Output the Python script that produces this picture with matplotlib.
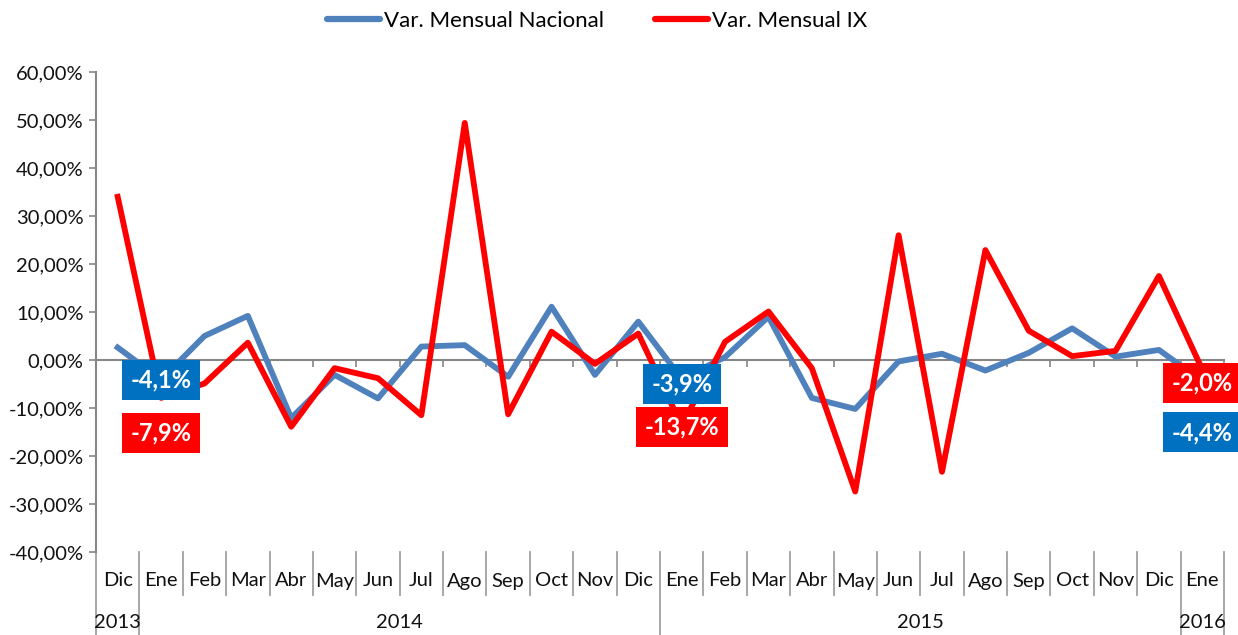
import matplotlib
matplotlib.use("Agg")
import matplotlib.pyplot as plt
from matplotlib.lines import Line2D
import matplotlib.transforms as mtransforms

plt.rcParams['font.family'] = ['Lato', 'DejaVu Sans']

months = ['Dic', 'Ene', 'Feb', 'Mar', 'Abr', 'May', 'Jun', 'Jul', 'Ago', 'Sep', 'Oct', 'Nov', 'Dic',
          'Ene', 'Feb', 'Mar', 'Abr', 'May', 'Jun', 'Jul', 'Ago', 'Sep', 'Oct', 'Nov', 'Dic', 'Ene']
year_labels = ['2013', '2014', '2015', '2016']
year_first = [0, 1, 13, 25]
year_last = [0, 12, 24, 25]

nacional = [2.6, -4.1, 5.0, 9.2, -12.1, -3.1, -8.0, 2.8, 3.1, -3.5, 11.1, -3.1, 8.0,
            -3.9, 0.6, 9.0, -7.9, -10.2, -0.3, 1.3, -2.2, 1.5, 6.6, 0.7, 2.1, -4.4]
ix = [34.0, -7.9, -4.9, 3.6, -13.9, -1.7, -3.8, -11.5, 49.4, -11.3, 5.9, -0.8, 5.5,
      -13.7, 3.8, 10.1, -1.7, -27.4, 26.0, -23.3, 22.9, 6.1, 0.8, 1.9, 17.5, -2.0]

label_idx = [1, 13, 25]

BLUE = '#4F81BD'
RED = '#FF0000'
BOXBLUE = '#0070C0'
GRAY = '#868686'

W, H = 1238, 635
fig = plt.figure(figsize=(W / 100, H / 100), dpi=100)
ax = fig.add_axes([96 / W, (H - 552) / H, (1224 - 96) / W, (552 - 72) / H])

x = list(range(len(months)))
ax.plot(x, nacional, color=BLUE, lw=4.2, solid_joinstyle='round', zorder=3)
ax.plot(x, ix, color=RED, lw=4.2, solid_joinstyle='round', zorder=4)

ax.set_xlim(-0.5, len(months) - 0.5)
ax.set_ylim(-40, 60)
ax.set_yticks(range(-40, 61, 10))
ax.set_yticklabels([f"{v:.2f}%".replace('.', ',') for v in range(-40, 61, 10)])
ax.tick_params(axis='y', direction='out', length=5, width=1.2, color=GRAY,
               labelsize=14.5, pad=4, labelcolor='#111111')

for s in ['top', 'right']:
    ax.spines[s].set_visible(False)
ax.spines['left'].set_color(GRAY)
ax.spines['left'].set_linewidth(1.5)
ax.spines['bottom'].set_position(('data', 0))
ax.spines['bottom'].set_color(GRAY)
ax.spines['bottom'].set_linewidth(1.5)
ax.set_xticks([i - 0.5 for i in range(len(months) + 1)])
ax.set_xticklabels([])
ax.tick_params(axis='x', direction='out', length=5, width=1.2, color=GRAY)

trans = mtransforms.blended_transform_factory(ax.transData, ax.transAxes)
axh = 552 - 72
mon_y = -(581 - 552) / axh
yr_y = -(622 - 552) / axh
sep_short = -(595 - 552) / axh
sep_long = -(635 - 552) / axh

for i, m in enumerate(months):
    ax.text(i, mon_y, m, transform=trans, ha='center', va='center', fontsize=14.5, color='#111111')
year_bounds = set(year_first) | {year_last[-1] + 1}
for b in range(len(months) + 1):
    bottom = sep_long if b in year_bounds else sep_short
    ax.add_line(Line2D([b - 0.5, b - 0.5], [0, bottom], transform=trans, color='#A0A0A0',
                       lw=1.3, clip_on=False))
for lab, a, b in zip(year_labels, year_first, year_last):
    ax.text((a + b) / 2, yr_y, lab, transform=trans, ha='center', va='center', fontsize=14.5,
            color='#111111')

# data labels
upper = [-4.2, -5.0, -4.8]
lower = [-15.2, -13.9, -15.1]
for k, i in enumerate(label_idx):
    nb = f"{nacional[i]:.1f}%".replace('.', ',')
    rb = f"{ix[i]:.1f}%".replace('.', ',')
    if k < 2:
        yb, yr = upper[k], lower[k]
    else:
        yr, yb = upper[k], lower[k]
    ax.text(i, yb, nb, ha='center', va='center', color='white', fontsize=17, fontweight='bold',
            bbox=dict(boxstyle='square,pad=0.36', fc=BOXBLUE, ec='none'), zorder=6, clip_on=False)
    ax.text(i, yr, rb, ha='center', va='center', color='white', fontsize=17, fontweight='bold',
            bbox=dict(boxstyle='square,pad=0.36', fc=RED, ec='none'), zorder=6, clip_on=False)

handles = [Line2D([], [], color=BLUE, lw=4.5, solid_capstyle='round'),
           Line2D([], [], color=RED, lw=4.5, solid_capstyle='round')]
fig.legend(handles, ['Var. Mensual Nacional', 'Var. Mensual IX'], loc='center',
           bbox_to_anchor=(597 / W, 1 - 21 / H), ncol=2, frameon=False, fontsize=16,
           handlelength=2.4, handletextpad=0.15, columnspacing=2.3)

fig.savefig('out.png', dpi=100)
